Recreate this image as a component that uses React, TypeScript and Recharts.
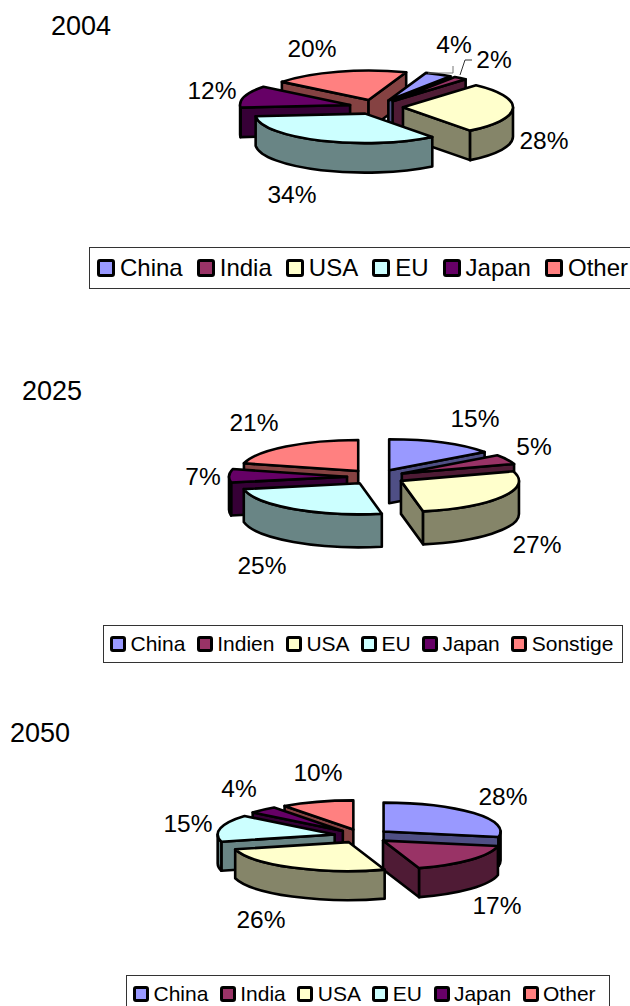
import { Legend, Pie, PieChart } from "recharts";

const FONT = "'Liberation Sans', Arial, sans-serif";

// top face and shaded wall colour, by slice position
const faceColors = ["#9999FF", "#993366", "#FFFFCC", "#CCFFFF", "#660066", "#FF8080"];
const wallColors = ["#4F4F85", "#4F1B35", "#858569", "#698585", "#360036", "#854242"];

const names2004 = ["China", "India", "USA", "EU", "Japan", "Other"];
const values2004 = [4, 2, 28, 34, 12, 20];
const names2025 = ["China", "Indien", "USA", "EU", "Japan", "Sonstige"];
const values2025 = [15, 5, 27, 25, 7, 21];
const names2050 = ["China", "India", "USA", "EU", "Japan", "Other"];
const values2050 = [28, 17, 26, 15, 4, 10];

type Panel = {
  title: string;
  titleX: number;
  titleY: number;
  names: string[];
  values: number[];
  top: number;
  height: number;
  cx: number;
  cy: number;
  rx: number;
  ry: number;
  depth: number;
  explode: number;
  firstAngle: number;
  drawOrder: number[];
  labelAt: number[][];
  labelSize: number;
  legend: { left: number; top: number; width: number; height: number; size: number; gap: number };
};

const panels: Panel[] = [
  {
    title: "2004", titleX: 51, titleY: 26,
    names: names2004, values: values2004,
    top: 0, height: 300,
    cx: 376, cy: 107, rx: 110, ry: 29.5, depth: 29.5, explode: 27, firstAngle: 20,
    drawOrder: [5, 0, 1, 4, 2, 3],
    labelAt: [[454, 44], [494, 59], [544, 140], [292, 194], [212, 90], [312, 48]],
    labelSize: 24.5,
    legend: { left: 89, top: 247, width: 560, height: 42, size: 24, gap: 14 },
  },
  {
    title: "2025", titleX: 22, titleY: 391,
    names: names2025, values: values2025,
    top: 300, height: 370,
    cx: 376, cy: 477, rx: 118, ry: 31, depth: 33, explode: 29, firstAngle: 0,
    drawOrder: [5, 0, 1, 4, 2, 3],
    labelAt: [[475, 418], [534, 446], [537, 544], [262, 565], [203, 476], [254, 422]],
    labelSize: 24.5,
    legend: { left: 103, top: 625, width: 520, height: 38, size: 21, gap: 11.5 },
  },
  {
    title: "2050", titleX: 10, titleY: 733,
    names: names2050, values: values2050,
    top: 670, height: 336,
    cx: 362, cy: 836, rx: 117, ry: 29, depth: 29, explode: 28, firstAngle: 0,
    drawOrder: [5, 4, 3, 0, 1, 2],
    labelAt: [[503, 796], [497, 905], [261, 919], [188, 823], [239, 788], [318, 772]],
    labelSize: 24.5,
    legend: { left: 126, top: 975, width: 484, height: 38, size: 21, gap: 11.5 },
  },
];

const rad = (deg: number) => (deg * Math.PI) / 180;
const norm = (deg: number) => ((deg % 360) + 360) % 360;

// draws one extruded slice on the squashed disc; other slices of this Pie stay empty
function makeSlice(panel: Panel, only: number) {
  return function Slice3D(props: any) {
    const name = props.name ?? props.payload?.name;
    if (panel.names.indexOf(name) !== only) return <g />;
    const { cx, cy, outerRadius: rx, startAngle, endAngle } = props;
    const { ry, depth, explode } = panel;
    // clockwise from north
    const from = 90 - startAngle;
    const to = 90 - endAngle;
    const mid = (from + to) / 2;
    const ax = cx + explode * Math.sin(rad(mid));
    const ay = cy - (explode * Math.cos(rad(mid)) * ry) / rx;
    const pt = (a: number, down = 0) =>
      [ax + rx * Math.sin(rad(a)), ay - ry * Math.cos(rad(a)) + down] as const;
    const arc = (a: number, b: number, down = 0) => {
      const [x, y] = pt(b, down);
      return `A${rx} ${ry} 0 ${b - a > 180 ? 1 : 0} 1 ${x} ${y}`;
    };
    const edgeWall = (a: number) => {
      const [x, y] = pt(a);
      return `M${ax} ${ay}L${x} ${y}L${x} ${y + depth}L${ax} ${ay + depth}Z`;
    };
    const walls: string[] = [];
    if (norm(from) > 180) walls.push(edgeWall(from));
    if (norm(to) > 0 && norm(to) < 180) walls.push(edgeWall(to));
    // outer rim, only the part on the front half of the disc
    for (const base of [90, 450]) {
      const a = Math.max(from, base);
      const b = Math.min(to, base + 180);
      if (b > a) {
        const [x1, y1] = pt(a);
        const [x2, y2] = pt(b, depth);
        walls.push(`M${x1} ${y1}${arc(a, b)}L${x2} ${y2}A${rx} ${ry} 0 0 0 ${x1} ${y1 + depth}Z`);
      }
    }
    const [sx, sy] = pt(from);
    const line = { stroke: "#000", strokeWidth: 2.6, strokeLinejoin: "round" as const };
    return (
      <g>
        {walls.map((d, i) => (
          <path key={i} d={d} fill={wallColors[only]} {...line} />
        ))}
        <path d={`M${ax} ${ay}L${sx} ${sy}${arc(from, to)}Z`} fill={faceColors[only]} {...line} />
      </g>
    );
  };
}

function makeLabel(panel: Panel) {
  return function SliceLabel(props: any) {
    const i = panel.names.indexOf(props.name ?? props.payload?.name);
    const [x, y] = panel.labelAt[i];
    return (
      <text
        x={x}
        y={y - panel.top}
        textAnchor="middle"
        dominantBaseline="central"
        fontFamily={FONT}
        fontSize={panel.labelSize}
        fill="#000"
      >
        {`${props.value}%`}
      </text>
    );
  };
}

function LegendBox({ panel }: { panel: Panel }) {
  const { size, height, width, gap } = panel.legend;
  const swatch = Math.round(size * 0.75);
  return (
    <div
      style={{
        boxSizing: "border-box",
        width,
        height,
        border: "1px solid #333",
        background: "#fff",
        display: "flex",
        alignItems: "center",
        paddingLeft: size * 0.29,
        fontFamily: FONT,
        fontSize: size,
        whiteSpace: "nowrap",
        color: "#000",
      }}
    >
      {panel.names.map((n, i) => (
        <span key={n} style={{ display: "flex", alignItems: "center", marginRight: gap }}>
          <span
            style={{
              boxSizing: "border-box",
              flexShrink: 0,
              width: swatch,
              height: swatch,
              border: "3px solid #000",
              borderRadius: 3,
              background: faceColors[i],
              marginRight: size * 0.21,
            }}
          />
          {n}
        </span>
      ))}
    </div>
  );
}

function YearChart({ panel }: { panel: Panel }) {
  const rows = panel.names.map((name, i) => ({ name, value: panel.values[i] }));
  const last = panel.drawOrder[panel.drawOrder.length - 1];
  return (
    <div style={{ position: "absolute", left: 0, top: panel.top, width: 630, height: panel.height }}>
      <PieChart width={630} height={panel.height} margin={{ top: 0, right: 0, bottom: 0, left: 0 }}>
        <Legend
          content={() => <LegendBox panel={panel} />}
          wrapperStyle={{ left: panel.legend.left, top: panel.legend.top - panel.top, width: panel.legend.width, bottom: "auto" }}
        />
        {panel.drawOrder.map((slice) => (
          <Pie
            key={slice}
            data={rows}
            dataKey="value"
            nameKey="name"
            cx={panel.cx}
            cy={panel.cy - panel.top}
            innerRadius={0}
            outerRadius={panel.rx}
            startAngle={90 - panel.firstAngle}
            endAngle={-270 - panel.firstAngle}
            stroke="none"
            isAnimationActive={false}
            shape={makeSlice(panel, slice)}
            labelLine={false}
            label={slice === last ? makeLabel(panel) : false}
            legendType="none"
          />
        ))}
      </PieChart>
    </div>
  );
}

export default function App() {
  return (
    <div style={{ position: "absolute", left: 0, top: 0, width: 630, height: 1006, overflow: "hidden", background: "#fff" }}>
      {panels.map((p) => (
        <YearChart key={p.title} panel={p} />
      ))}
      {panels.map((p) => (
        <div
          key={p.title}
          style={{
            position: "absolute",
            left: p.titleX,
            top: p.titleY - 16,
            lineHeight: "32px",
            fontFamily: FONT,
            fontSize: 27,
            color: "#000",
          }}
        >
          {p.title}
        </div>
      ))}
      {/* leader lines for the two thin 2004 slices */}
      <svg width={630} height={120} style={{ position: "absolute", left: 0, top: 0, pointerEvents: "none" }}>
        <path d="M453 66V73H428" fill="none" stroke="#777" strokeWidth={1} />
        <path d="M472 60H465L460 75" fill="none" stroke="#333" strokeWidth={1} />
      </svg>
    </div>
  );
}
